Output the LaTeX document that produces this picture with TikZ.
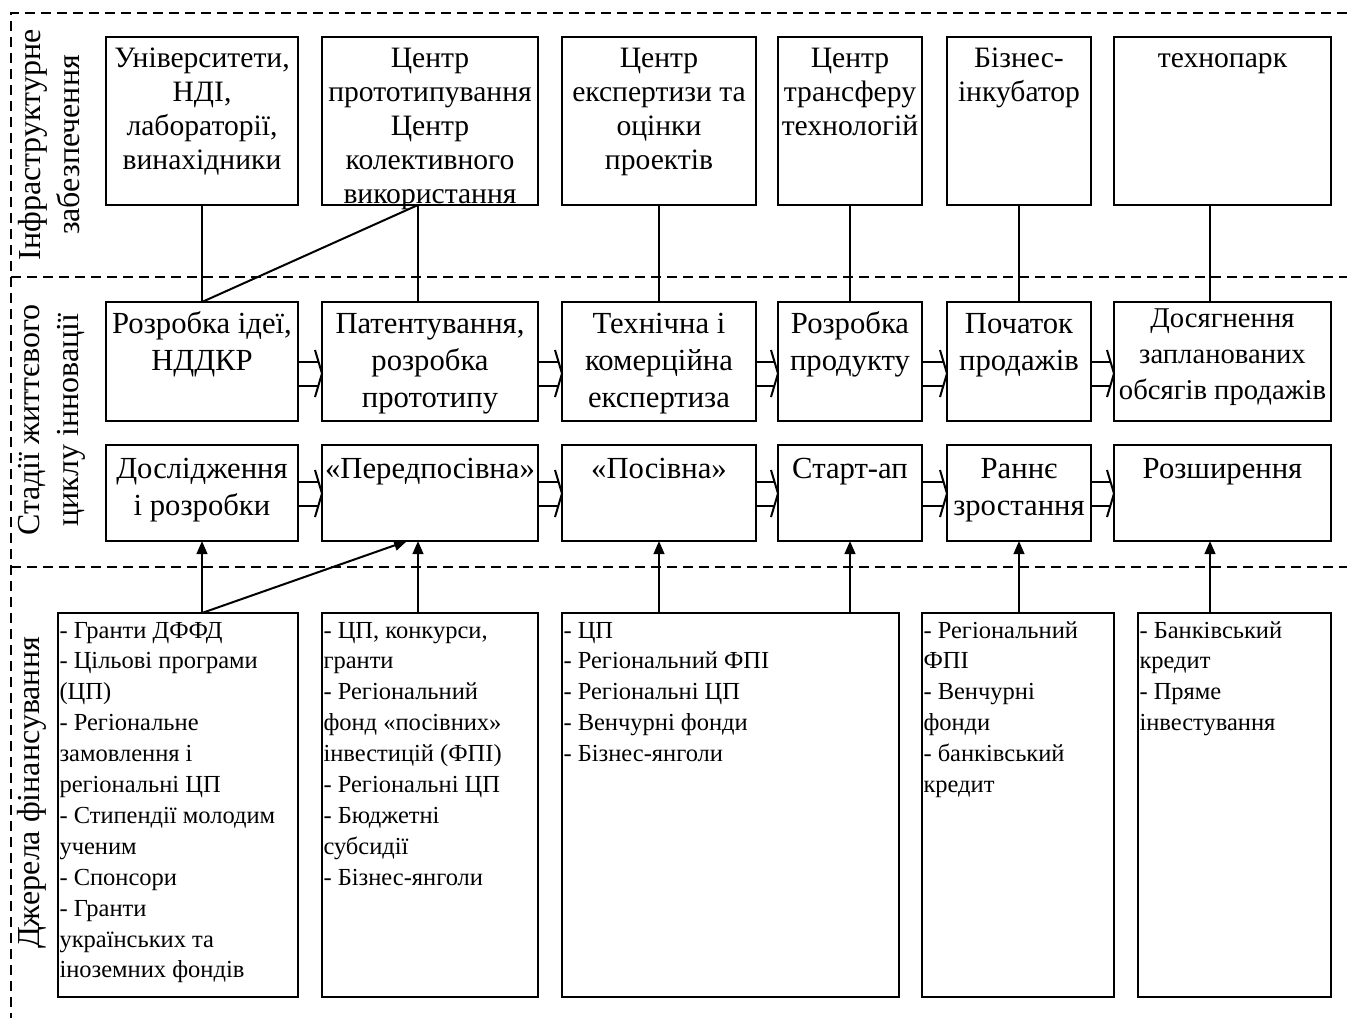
\documentclass[tikz,border=0pt]{standalone}
\usepackage{fontspec}
\setmainfont{Liberation Serif}
\usetikzlibrary{arrows.meta,calc}
\newdimen\pxu \pxu=0.75pt
\newcommand{\ftop}{\fontsize{22.2pt}{25.65pt}\selectfont}
\newcommand{\fmid}{\fontsize{23pt}{27.75pt}\selectfont}
\newcommand{\fmidS}{\fontsize{21.5pt}{27pt}\selectfont}
\newcommand{\fbot}{\fontsize{18.375pt}{23.175pt}\selectfont}
\newcommand{\bx}[8]{\node[box] (#1) at (#2,#3) {\parbox[c][#5\pxu][t]{#4\pxu}{\centering#6\rule{0pt}{#7\pxu}#8}};}
\newcommand{\bxl}[8]{\node[box] (#1) at (#2,#3) {\parbox[c][#5\pxu][t]{#4\pxu}{\raggedright\leftskip=1.5\pxu #6\rule{0pt}{#7\pxu}#8}};}
\newcommand{\harrow}[3]{%
 \draw[conn] ($(#1.east |- #3)+(0,-12)$) -- ($(#2.west |- #3)+(-3.5,-12)$);
 \draw[conn] ($(#1.east |- #3)+(0,12)$) -- ($(#2.west |- #3)+(-3.5,12)$);
 \draw[conn] ($(#2.west |- #3)+(-7,-23.5)$) -- (#2.west |- #3) -- ($(#2.west |- #3)+(-7,23.5)$);
}
\tikzset{
 box/.style={draw, line width=1.5pt, inner sep=0pt, outer sep=0pt, anchor=north west},
 conn/.style={line width=1.5pt},
 arr/.style={line width=1.5pt, -{Triangle[length=9.75pt,width=8pt]}},
 frame/.style={line width=1.3pt, dash pattern=on 7.5pt off 4.5pt},
 lbl/.style={rotate=90, align=center, inner sep=0pt, font=\fontsize{24pt}{29.25pt}\selectfont},
}
\begin{document}
\begin{tikzpicture}[x=0.75pt,y=-0.75pt]
\useasboundingbox (0,0) rectangle (1347,1018);
\fill[white] (0,0) rectangle (1347,1018);
% frame
\draw[frame] (1347,13) -- (11,13) -- (11,1018);
\draw[frame] (11,277) -- (1347,277);
\draw[frame] (11,567) -- (1347,567);
% side labels
\node[lbl] (Linfra) at (49,145) {Інфраструктурне\\забезпечення};
\node[lbl] (Lstage) at (52,420) {Стадії життєвого\\циклу інновації};
\node[lbl] (Lfin) at (32,793) {Джерела фінансування};
% top row
\bx{T1}{106}{37}{192}{168}{\ftop}{30}{Університети,\\НДІ,\\лабораторії,\\винахідники}
\bx{T2}{322}{37}{216}{168}{\ftop}{30}{Центр\\прототипування\\Центр\\колективного\\використання}
\bx{T3}{562}{37}{194}{168}{\ftop}{30}{Центр\\\mbox{експертизи та}\\оцінки\\проектів}
\bx{T4}{778}{37}{144}{168}{\ftop}{30}{Центр\\трансферу\\технологій}
\bx{T5}{947}{37}{144}{168}{\ftop}{30}{Бізнес-\\інкубатор}
\bx{T6}{1114}{37}{217}{168}{\ftop}{30}{технопарк}
% middle row
\bx{M1}{106}{302}{192}{119}{\fmid}{31.6}{\mbox{Розробка ідеї,}\\НДДКР}
\bx{M2}{322}{302}{216}{119}{\fmid}{31.6}{Патентування,\\розробка\\прототипу}
\bx{M3}{562}{302}{194}{119}{\fmid}{31.6}{\mbox{Технічна і}\\комерційна\\експертиза}
\bx{M4}{778}{302}{144}{119}{\fmid}{31.6}{Розробка\\продукту}
\bx{M5}{947}{302}{144}{119}{\fmid}{31.6}{Початок\\продажів}
\bx{M6}{1114}{302}{217}{119}{\fmidS}{25.6}{Досягнення\\запланованих\\\mbox{обсягів продажів}}
% stage row
\bx{B1}{106}{445}{192}{96}{\fmid}{33}{Дослідження\\\mbox{і розробки}}
\bx{B2}{322}{445}{216}{96}{\fmid}{33}{«Передпосівна»}
\bx{B3}{562}{445}{194}{96}{\fmid}{33}{«Посівна»}
\bx{B4}{778}{445}{144}{96}{\fmid}{33}{Старт-ап}
\bx{B5}{947}{445}{144}{96}{\fmid}{33}{Раннє\\зростання}
\bx{B6}{1114}{445}{217}{96}{\fmid}{33}{Розширення}
% financing row
\bxl{F1}{58}{613}{240}{384}{\fbot}{25}{\mbox{- Гранти ДФФД}\\\mbox{- Цільові програми}\\(ЦП)\\\mbox{- Регіональне}\\\mbox{замовлення і}\\\mbox{регіональні ЦП}\\\mbox{- Стипендії молодим}\\ученим\\\mbox{- Спонсори}\\\mbox{- Гранти}\\\mbox{українських та}\\\mbox{іноземних фондів}}
\bxl{F2}{322}{613}{216}{384}{\fbot}{25}{\mbox{- ЦП, конкурси,}\\гранти\\\mbox{- Регіональний}\\\mbox{фонд «посівних»}\\\mbox{інвестицій (ФПІ)}\\\mbox{- Регіональні ЦП}\\\mbox{- Бюджетні}\\субсидії\\\mbox{- Бізнес-янголи}}
\bxl{F3}{562}{613}{337}{384}{\fbot}{25}{\mbox{- ЦП}\\\mbox{- Регіональний ФПІ}\\\mbox{- Регіональні ЦП}\\\mbox{- Венчурні фонди}\\\mbox{- Бізнес-янголи}}
\bxl{F4}{922}{613}{192}{384}{\fbot}{25}{\mbox{- Регіональний}\\ФПІ\\\mbox{- Венчурні}\\фонди\\\mbox{- банківський}\\кредит}
\bxl{F5}{1138}{613}{193}{384}{\fbot}{25}{\mbox{- Банківський}\\кредит\\\mbox{- Пряме}\\інвестування}
% infrastructure connectors
\draw[conn] (T1.south) -- (M1.north);
\draw[conn] ([xshift=-9pt]T2.south) -- ([xshift=-9pt]M2.north);
\draw[conn] ([xshift=-9pt]T2.south) -- (M1.north);
\draw[conn] (T3.south) -- (M3.north);
\draw[conn] (T4.south) -- (M4.north);
\draw[conn] (T5.south) -- (M5.north);
\draw[conn] ([xshift=-9.375pt]T6.south) -- ([xshift=-9.375pt]M6.north);
% hollow arrows
\coordinate (ym) at (0,373.5);
\coordinate (yb) at (0,493.5);
\harrow{M1}{M2}{ym}
\harrow{M2}{M3}{ym}
\harrow{M3}{M4}{ym}
\harrow{M4}{M5}{ym}
\harrow{M5}{M6}{ym}
\harrow{B1}{B2}{yb}
\harrow{B2}{B3}{yb}
\harrow{B3}{B4}{yb}
\harrow{B4}{B5}{yb}
\harrow{B5}{B6}{yb}
% financing arrows
\coordinate (b2in) at ([xshift=-9pt]B2.south);
\coordinate (b2d) at ([xshift=-17.25pt]B2.south);
\coordinate (b6in) at ([xshift=-9.375pt]B6.south);
\draw[arr] (B1.south |- F1.north) -- (B1.south);
\draw[arr] (B1.south |- F1.north) -- (b2d);
\draw[arr] (b2in |- F2.north) -- (b2in);
\draw[arr] (B3.south |- F3.north) -- (B3.south);
\draw[arr] (B4.south |- F3.north) -- (B4.south);
\draw[arr] (B5.south |- F4.north) -- (B5.south);
\draw[arr] (b6in |- F5.north) -- (b6in);
\end{tikzpicture}
\end{document}
